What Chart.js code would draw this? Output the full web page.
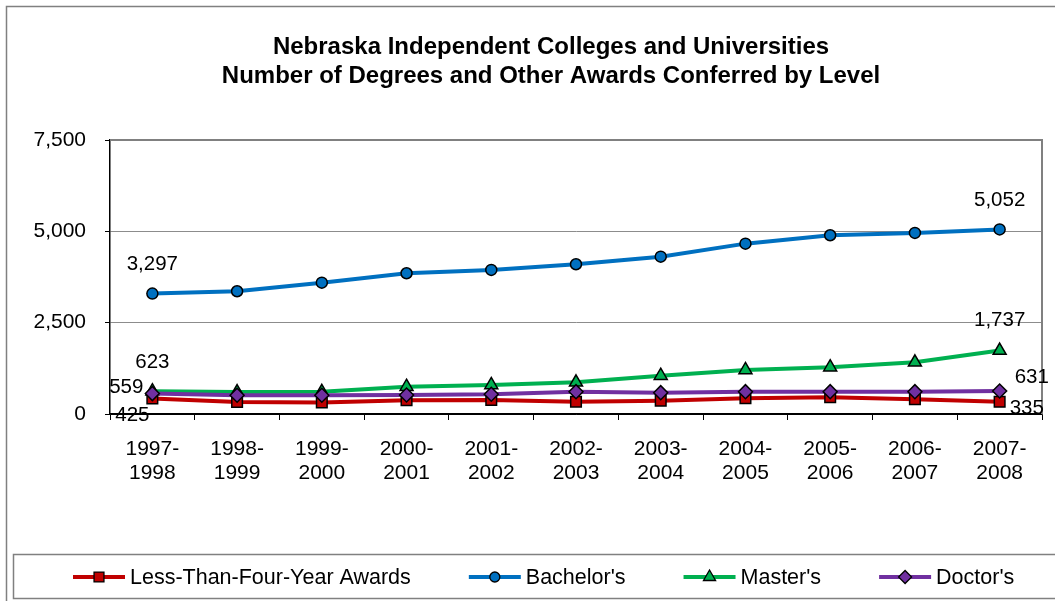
<!DOCTYPE html>
<html>
<head>
<meta charset="utf-8">
<title>Nebraska Independent Colleges and Universities</title>
<script src="https://cdn.jsdelivr.net/npm/chart.js@4.4.0/dist/chart.umd.min.js"></script>
<style>
    html, body { margin: 0; padding: 0; background: #fff; }
    #wrap { width: 1055px; height: 601px; position: relative; }
</style>
</head>
<body>
<div id="wrap"><canvas id="degreesChart"></canvas></div>
<script>
const categories = ["1997-1998", "1998-1999", "1999-2000", "2000-2001", "2001-2002", "2002-2003",
    "2003-2004", "2004-2005", "2005-2006", "2006-2007", "2007-2008"];
const lessThanFourYear = [425, 329, 315, 375, 383, 337, 365, 430, 457, 403, 335];
const bachelors = [3297, 3360, 3595, 3853, 3943, 4099, 4307, 4663, 4893, 4956, 5052];
const masters = [623, 602, 608, 748, 794, 868, 1050, 1205, 1280, 1416, 1737];
const doctors = [559, 512, 514, 520, 539, 611, 584, 611, 611, 611, 631];
const seriesNames = ["Less-Than-Four-Year Awards", "Bachelor's", "Master's", "Doctor's"];
const titleLines = ["Nebraska Independent Colleges and Universities",
    "Number of Degrees and Other Awards Conferred by Level"];
const yTickValues = [0, 2500, 5000, 7500];

const FONT = "'Liberation Sans', Arial, sans-serif";
const fmt = v => v.toLocaleString("en-US");

// where the first / last value labels sit relative to their point
const endLabels = [
    {first: {dx: -20, dy: 17, align: "center"}, last: {dx: 10, dy: 7, align: "left"}},
    {first: {dx: 0, dy: -29, align: "center"}, last: {dx: 0, dy: -29, align: "center"}},
    {first: {dx: 0, dy: -29, align: "center"}, last: {dx: 0, dy: -30, align: "center"}},
    {first: {dx: -9, dy: -6, align: "right"}, last: {dx: 15, dy: -14, align: "left"}}
];

function makeDataset(label, data, color, style, radius, order) {
    return {
        label: label,
        data: data,
        borderColor: color,
        backgroundColor: color,
        borderWidth: 4,
        pointStyle: style,
        pointRadius: radius,
        pointHoverRadius: radius,
        pointBackgroundColor: color,
        pointBorderColor: "#000",
        pointBorderWidth: 1.5,
        tension: 0,
        fill: false,
        order: order
    };
}

const frameAndText = {
    id: "frameAndText",
    beforeDraw(chart) {
        const ctx = chart.ctx;
        ctx.save();
        ctx.fillStyle = "#fff";
        ctx.fillRect(0, 0, chart.width, chart.height);
        ctx.strokeStyle = "#808080";
        ctx.lineWidth = 1.5;
        ctx.strokeRect(6.5, 6.5, 1200, 800);
        ctx.strokeRect(13.5, 554.5, 1200, 44);
        ctx.restore();
    },
    beforeDatasetsDraw(chart) {
        const ctx = chart.ctx;
        const a = chart.chartArea;
        ctx.save();
        ctx.strokeStyle = "#808080";
        ctx.lineWidth = 2;
        ctx.beginPath();
        ctx.moveTo(a.left, a.top);
        ctx.lineTo(a.right, a.top);
        ctx.lineTo(a.right, a.bottom);
        ctx.stroke();
        ctx.restore();
    },
    afterDatasetsDraw(chart) {
        const ctx = chart.ctx;
        ctx.save();
        ctx.fillStyle = "#000";
        ctx.font = "20.5px " + FONT;
        ctx.textBaseline = "middle";
        chart.data.datasets.forEach((ds, i) => {
            const meta = chart.getDatasetMeta(i);
            const last = meta.data.length - 1;
            [["first", 0], ["last", last]].forEach(([key, idx]) => {
                const spot = endLabels[i][key];
                const pt = meta.data[idx];
                ctx.textAlign = spot.align;
                ctx.fillText(fmt(ds.data[idx]), pt.x + spot.dx, pt.y + spot.dy);
            });
        });
        ctx.restore();
    },
    afterDraw(chart) {
        const ctx = chart.ctx;
        ctx.save();
        // title
        ctx.fillStyle = "#000";
        ctx.font = "bold 24px " + FONT;
        ctx.textAlign = "center";
        ctx.textBaseline = "middle";
        titleLines.forEach((line, i) => ctx.fillText(line, 551, 47 + i * 29));

        // legend
        ctx.font = "21.5px " + FONT;
        ctx.textAlign = "left";
        let x = 73;
        const y = 577;
        chart.data.datasets.forEach(ds => {
            ctx.strokeStyle = ds.borderColor;
            ctx.lineWidth = 4;
            ctx.beginPath();
            ctx.moveTo(x, y);
            ctx.lineTo(x + 52, y);
            ctx.stroke();
            ctx.fillStyle = ds.borderColor;
            ctx.strokeStyle = "#000";
            ctx.lineWidth = 1.3;
            Chart.helpers.drawPoint(ctx, {
                pointStyle: ds.pointStyle,
                radius: ds.pointRadius - 0.5,
                borderWidth: 1.3,
                rotation: 0
            }, x + 26, y);
            ctx.fillStyle = "#000";
            ctx.fillText(ds.label, x + 57, y + 1);
            x += 57 + ctx.measureText(ds.label).width + 58;
        });
        ctx.restore();
    }
};

document.addEventListener("DOMContentLoaded", () => {
    const ctx = document.getElementById("degreesChart").getContext("2d");

    new Chart(ctx, {
        type: "line",
        data: {
            labels: categories,
            datasets: [
                makeDataset(seriesNames[0], lessThanFourYear, "#C00000", "rect", 7.5, 3),
                makeDataset(seriesNames[1], bachelors, "#0070C0", "circle", 5.5, 2),
                makeDataset(seriesNames[2], masters, "#00B050", "triangle", 7.5, 1),
                makeDataset(seriesNames[3], doctors, "#7030A0", "rectRot", 7, 0)
            ]
        },
        options: {
            responsive: true,
            maintainAspectRatio: false,
            animation: false,
            layout: {
                padding: {top: 140, right: 13, bottom: 0, left: 0}
            },
            plugins: {
                legend: {display: false},
                title: {display: false},
                tooltip: {enabled: false}
            },
            scales: {
                x: {
                    type: "category",
                    offset: true,
                    afterFit: scale => { scale.height = 187; },
                    grid: {
                        offset: true,
                        drawOnChartArea: false,
                        drawTicks: true,
                        tickLength: 6,
                        color: "#000",
                        lineWidth: 1
                    },
                    border: {display: true, color: "#000", width: 1.5},
                    ticks: {
                        color: "#000",
                        padding: 17,
                        maxRotation: 0,
                        autoSkip: false,
                        font: {family: FONT, size: 21, lineHeight: 1.15},
                        callback: function (value) {
                            const parts = this.getLabelForValue(value).split("-");
                            return [parts[0] + "-", parts[1]];
                        }
                    }
                },
                y: {
                    min: 0,
                    max: 7500,
                    afterFit: scale => { scale.width = 110; },
                    afterBuildTicks: scale => {
                        scale.ticks = yTickValues.map(v => ({value: v}));
                    },
                    grid: {
                        color: c => c.tick && c.tick.value === 0 ? "#000" : "#8c8c8c",
                        lineWidth: 1,
                        tickColor: "#000",
                        tickLength: 5
                    },
                    border: {display: true, color: "#000", width: 1.5},
                    ticks: {
                        color: "#000",
                        padding: 19,
                        font: {family: FONT, size: 21},
                        callback: v => fmt(v)
                    }
                }
            }
        },
        plugins: [frameAndText]
    });
});
</script>
</body>
</html>
